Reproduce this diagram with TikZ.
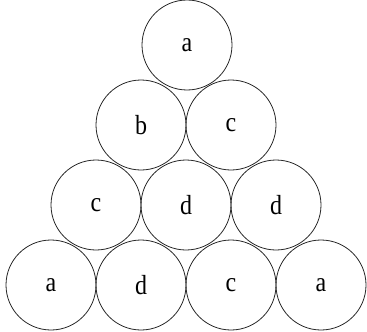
\documentclass[tikz,border=0pt]{standalone}
\usepackage{fontspec}
\usepackage{graphicx}
\setmainfont{Liberation Serif}
\begin{document}
\begin{tikzpicture}[x=1pt,y=-1pt,
  ball/.style={draw=black!85,line width=0.8pt,circle,minimum size=90pt,inner sep=0pt,font=\fontsize{24}{26}\selectfont}]
\useasboundingbox (0,0) rectangle (367,332);
\newcommand{\lbl}[1]{\scalebox{1}[1.15]{#1}}
\node[ball] (r1) at (187,45) {\lbl{a}};
\node[ball] (r2a) at (141,125) {\lbl{b}};
\node[ball] (r2b) at (231,125) {\lbl{c}};
\node[ball] (r3a) at (96,205) {\lbl{c}};
\node[ball] (r3b) at (186,205) {\lbl{d}};
\node[ball] (r3c) at (276,205) {\lbl{d}};
\node[ball] (r4a) at (51,285) {\lbl{a}};
\node[ball] (r4b) at (141,285) {\lbl{d}};
\node[ball] (r4c) at (231,285) {\lbl{c}};
\node[ball] (r4d) at (321,285) {\lbl{a}};
\end{tikzpicture}
\end{document}
